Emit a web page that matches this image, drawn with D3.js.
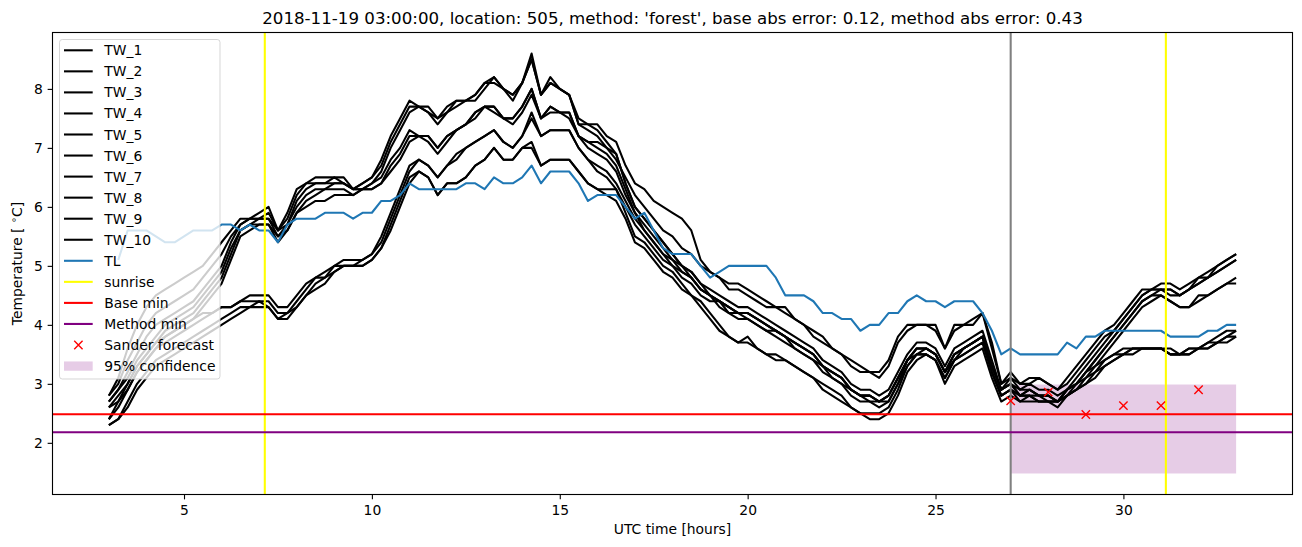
<!DOCTYPE html>
<html><head><meta charset="utf-8">
<script src="https://cdn.jsdelivr.net/npm/d3@7"></script>
<style>body{margin:0;background:#fff;} svg{display:block;font-family:"DejaVu Sans",sans-serif;}</style>
</head><body><svg id="chart" width="1302" height="547"></svg>
<script>
// sample times: every 0.25 h from 3 to 33 UTC hours
const startHour = 3, stepHours = 0.25, nSamples = 121;

const TW_1 = [2.8,3.1,3.6,4.0, 4.3,4.5,4.6,4.7, 4.8,4.9,5.0,5.2, 5.4,5.6,5.8,5.8,
 5.9,6.0,5.6,5.9, 6.3,6.4,6.5,6.5, 6.5,6.5,6.3,6.4, 6.5,6.8,7.2,7.5,
 7.8,7.7,7.7,7.5, 7.7,7.8,7.8,7.9, 8.1,8.2,8.0,7.9, 8.1,8.6,7.9,8.2,
 8.0,7.9,7.4,7.4, 7.4,7.2,7.1,6.7, 6.4,6.3,6.1,6.0, 5.9,5.8,5.6,5.1,
 4.9,4.8,4.7,4.7, 4.6,4.5,4.4,4.3, 4.3,4.1,4.0,3.9, 3.8,3.6,3.5,3.4,
 3.3,3.2,3.2,3.4, 3.8,4.0,4.0,4.0, 4.0,3.6,4.0,4.0, 4.1,4.2,3.7,3.0,
 3.2,3.0,3.1,3.1, 3.0,2.9,3.1,3.3, 3.5,3.7,3.9,4.0, 4.2,4.4,4.6,4.6,
 4.7,4.7,4.6,4.7, 4.8,4.9,5.0,5.1, 5.2];
const TW_2 = [2.8,3.0,3.4,3.7, 4.0,4.2,4.3,4.4, 4.5,4.6,4.8,5.0, 5.2,5.5,5.7,5.8,
 5.8,5.9,5.6,5.8, 6.2,6.4,6.4,6.4, 6.5,6.4,6.3,6.4, 6.5,6.7,7.1,7.4,
 7.7,7.7,7.6,7.5, 7.6,7.8,7.8,7.9, 8.1,8.1,8.0,7.9, 8.1,8.5,7.9,8.1,
 8.0,7.9,7.4,7.3, 7.2,7.0,6.8,6.5, 6.2,6.0,5.8,5.6, 5.5,5.3,5.2,5.0,
 4.9,4.8,4.6,4.6, 4.5,4.4,4.3,4.3, 4.2,4.1,4.0,3.8, 3.7,3.6,3.5,3.3,
 3.2,3.2,3.1,3.3, 3.7,3.9,4.0,4.0, 3.9,3.6,3.9,4.0, 4.0,4.2,3.6,3.0,
 3.1,3.0,3.0,3.1, 3.0,2.9,3.0,3.2, 3.4,3.6,3.8,3.9, 4.1,4.3,4.5,4.6,
 4.6,4.6,4.5,4.6, 4.8,4.8,4.9,5.0, 5.1];
const TW_3 = [2.7,2.9,3.2,3.5, 3.8,4.0,4.1,4.2, 4.3,4.4,4.6,4.8, 5.0,5.4,5.7,5.8,
 5.8,5.8,5.6,5.7, 6.1,6.3,6.4,6.4, 6.4,6.4,6.3,6.3, 6.4,6.6,7.0,7.3,
 7.6,7.7,7.6,7.4, 7.6,7.7,7.8,7.8, 8.0,8.2,8.0,7.8, 8.1,8.5,7.9,8.1,
 8.0,7.9,7.5,7.4, 7.3,7.1,6.9,6.4, 6.0,5.8,5.6,5.4, 5.2,5.0,4.9,4.7,
 4.6,4.5,4.4,4.3, 4.3,4.2,4.1,4.0, 3.9,3.8,3.7,3.6, 3.4,3.3,3.2,3.0,
 2.9,2.9,2.8,2.9, 3.2,3.5,3.7,3.7, 3.6,3.3,3.6,3.7, 3.8,3.9,3.4,2.9,
 3.1,2.9,3.0,2.9, 2.9,2.8,2.9,3.1, 3.3,3.5,3.7,3.9, 4.1,4.3,4.5,4.6,
 4.6,4.6,4.5,4.6, 4.7,4.8,5.0,5.1, 5.2];
const TW_4 = [2.7,2.9,3.1,3.4, 3.6,3.8,4.0,4.1, 4.2,4.3,4.5,4.7, 4.9,5.3,5.6,5.7,
 5.8,5.8,5.5,5.7, 6.0,6.2,6.3,6.3, 6.4,6.4,6.3,6.3, 6.4,6.5,6.8,7.0,
 7.3,7.2,7.2,7.0, 7.2,7.3,7.4,7.6, 7.7,7.7,7.5,7.5, 7.7,8.0,7.5,7.7,
 7.6,7.6,7.2,7.1, 7.1,7.0,6.9,6.4, 6.0,5.8,5.6,5.4, 5.2,5.0,4.9,4.7,
 4.5,4.4,4.3,4.2, 4.2,4.1,4.0,3.9, 3.8,3.7,3.6,3.5, 3.3,3.2,3.1,2.9,
 2.8,2.8,2.7,2.8, 3.1,3.4,3.6,3.6, 3.5,3.2,3.5,3.6, 3.7,3.8,3.3,2.9,
 3.0,2.8,2.9,2.8, 2.8,2.7,2.9,3.0, 3.2,3.4,3.6,3.8, 4.0,4.2,4.4,4.5,
 4.6,4.5,4.5,4.6, 4.7,4.8,4.9,5.0, 5.1];
const TW_5 = [2.6,2.8,3.0,3.3, 3.5,3.7,3.9,4.0, 4.1,4.2,4.4,4.6, 4.8,5.2,5.6,5.7,
 5.7,5.7,5.5,5.6, 5.9,6.1,6.2,6.3, 6.3,6.3,6.2,6.3, 6.3,6.4,6.7,6.9,
 7.2,7.2,7.1,6.9, 7.1,7.3,7.4,7.5, 7.7,7.6,7.5,7.4, 7.6,7.9,7.5,7.6,
 7.6,7.6,7.2,7.1, 7.0,6.9,6.7,6.3, 5.9,5.7,5.5,5.3, 5.1,5.0,4.8,4.6,
 4.5,4.4,4.2,4.2, 4.1,4.0,3.9,3.9, 3.8,3.6,3.5,3.4, 3.3,3.1,3.0,2.9,
 2.8,2.7,2.7,2.7, 3.0,3.4,3.5,3.6, 3.5,3.2,3.4,3.6, 3.7,3.8,3.2,2.8,
 2.9,2.8,2.8,2.8, 2.7,2.7,2.8,3.0, 3.2,3.4,3.6,3.8, 4.0,4.2,4.4,4.5,
 4.5,4.4,4.3,4.3, 4.5,4.5,4.6,4.7, 4.8];
const TW_6 = [2.6,2.7,2.9,3.2, 3.4,3.6,3.8,3.9, 4.0,4.1,4.3,4.5, 4.7,5.1,5.5,5.6,
 5.7,5.7,5.4,5.6, 5.9,6.0,6.1,6.1, 6.2,6.2,6.2,6.3, 6.3,6.4,6.6,6.8,
 7.1,7.2,7.2,7.0, 7.2,7.3,7.4,7.6, 7.7,7.7,7.5,7.5, 7.7,8.0,7.5,7.7,
 7.6,7.5,7.2,7.0, 6.9,6.8,6.6,6.2, 5.9,5.6,5.4,5.2, 5.1,4.9,4.8,4.6,
 4.5,4.4,4.3,4.2, 4.2,4.1,4.0,3.9, 3.8,3.7,3.6,3.5, 3.3,3.2,3.1,2.9,
 2.8,2.8,2.7,2.8, 3.1,3.4,3.6,3.6, 3.5,3.2,3.5,3.6, 3.7,3.8,3.3,2.9,
 3.0,2.9,2.9,2.8, 2.8,2.7,2.8,2.9, 3.1,3.3,3.5,3.7, 3.9,4.1,4.3,4.4,
 4.5,4.4,4.3,4.3, 4.4,4.5,4.6,4.7, 4.7];
const TW_7 = [2.4,2.7,3.0,3.3, 3.5,3.7,3.8,3.9, 4.0,4.1,4.2,4.2, 4.3,4.3,4.4,4.5,
 4.5,4.5,4.3,4.3, 4.5,4.7,4.8,4.9, 5.0,5.1,5.1,5.1, 5.2,5.5,5.9,6.3,
 6.7,6.8,6.7,6.5, 6.7,6.9,7.0,7.1, 7.2,7.3,7.1,7.0, 7.2,7.6,7.2,7.3,
 7.3,7.3,7.0,6.8, 6.7,6.6,6.4,6.1, 5.8,5.6,5.4,5.2, 5.0,4.9,4.8,4.6,
 4.5,4.3,4.2,4.1, 4.1,4.0,3.9,3.8, 3.7,3.6,3.5,3.4, 3.2,3.1,3.0,2.8,
 2.7,2.7,2.6,2.7, 3.0,3.3,3.5,3.5, 3.4,3.1,3.4,3.5, 3.6,3.7,3.2,2.8,
 2.9,2.8,2.8,2.7, 2.7,2.7,2.9,3.0, 3.2,3.3,3.4,3.5, 3.6,3.6,3.6,3.6,
 3.6,3.6,3.5,3.6, 3.6,3.7,3.8,3.9, 3.9];
const TW_8 = [2.4,2.6,2.9,3.2, 3.4,3.6,3.7,3.8, 3.9,4.0,4.1,4.2, 4.3,4.3,4.4,4.4,
 4.4,4.4,4.2,4.2, 4.4,4.6,4.8,4.8, 5.0,5.0,5.0,5.1, 5.2,5.4,5.8,6.2,
 6.6,6.8,6.7,6.5, 6.7,6.8,7.0,7.1, 7.2,7.3,7.1,7.0, 7.2,7.5,7.2,7.3,
 7.3,7.3,7.0,6.8, 6.6,6.5,6.3,6.0, 5.7,5.5,5.3,5.1, 5.0,4.8,4.7,4.5,
 4.4,4.4,4.3,4.2, 4.2,4.1,4.0,3.9, 3.8,3.7,3.6,3.5, 3.3,3.2,3.1,2.9,
 2.8,2.8,2.7,2.8, 3.1,3.4,3.6,3.6, 3.5,3.2,3.5,3.6, 3.7,3.8,3.3,2.9,
 3.0,2.8,2.9,2.8, 2.8,2.7,2.9,3.0, 3.1,3.2,3.4,3.5, 3.5,3.6,3.6,3.6,
 3.6,3.5,3.5,3.5, 3.6,3.7,3.7,3.8, 3.9];
const TW_9 = [2.3,2.4,2.7,3.0, 3.2,3.4,3.5,3.6, 3.7,3.8,3.9,4.0, 4.1,4.2,4.3,4.3,
 4.4,4.3,4.1,4.2, 4.3,4.5,4.7,4.8, 4.9,5.0,5.0,5.0, 5.1,5.3,5.7,6.1,
 6.5,6.6,6.5,6.2, 6.4,6.4,6.5,6.7, 6.8,7.0,6.8,6.8, 7.0,7.1,6.7,6.8,
 6.8,6.8,6.6,6.4, 6.3,6.3,6.3,5.9, 5.5,5.4,5.2,5.0, 4.9,4.7,4.5,4.4,
 4.2,4.0,3.8,3.7, 3.8,3.6,3.5,3.5, 3.4,3.3,3.2,3.1, 3.0,2.9,2.8,2.6,
 2.5,2.5,2.5,2.6, 2.9,3.3,3.5,3.5, 3.4,3.1,3.4,3.5, 3.6,3.7,3.2,2.8,
 2.9,2.7,2.8,2.7, 2.7,2.7,2.8,2.9, 3.0,3.2,3.3,3.4, 3.5,3.6,3.6,3.6,
 3.6,3.5,3.5,3.6, 3.6,3.6,3.7,3.8, 3.8];
const TW_10 = [2.3,2.4,2.6,2.9, 3.1,3.3,3.4,3.5, 3.6,3.7,3.8,3.9, 4.0,4.1,4.2,4.3,
 4.3,4.3,4.1,4.1, 4.3,4.5,4.6,4.7, 4.9,5.0,5.0,5.0, 5.1,5.3,5.6,6.0,
 6.4,6.6,6.5,6.2, 6.4,6.4,6.5,6.7, 6.8,7.0,6.8,6.8, 7.0,7.0,6.7,6.8,
 6.8,6.8,6.6,6.4, 6.3,6.2,6.1,5.8, 5.4,5.3,5.1,4.9, 4.8,4.6,4.5,4.3,
 4.1,3.9,3.8,3.7, 3.7,3.6,3.5,3.4, 3.4,3.3,3.2,3.1, 2.9,2.8,2.7,2.6,
 2.5,2.4,2.4,2.5, 2.8,3.2,3.4,3.5, 3.4,3.0,3.3,3.4, 3.5,3.6,3.1,2.7,
 2.8,2.7,2.7,2.7, 2.7,2.6,2.8,2.9, 3.0,3.1,3.3,3.4, 3.5,3.5,3.6,3.6,
 3.6,3.5,3.5,3.5, 3.6,3.6,3.7,3.7, 3.8];
const TL = [null,5.1,5.6,5.6, 5.6,5.5,5.4,5.4, 5.5,5.6,5.6,5.6, 5.7,5.7,5.6,5.7,
 5.6,5.6,5.4,5.7, 5.8,5.8,5.8,5.9, 5.9,5.9,5.8,5.9, 5.9,6.1,6.1,6.2,
 6.4,6.3,6.3,6.3, 6.3,6.3,6.4,6.4, 6.3,6.5,6.4,6.4, 6.5,6.7,6.4,6.6,
 6.6,6.6,6.4,6.1, 6.2,6.2,6.2,6.0, 5.8,5.9,5.6,5.3, 5.2,5.2,5.2,5.0,
 4.8,4.9,5.0,5.0, 5.0,5.0,5.0,4.8, 4.5,4.5,4.5,4.4, 4.2,4.2,4.1,4.1,
 3.9,4.0,4.0,4.2, 4.2,4.4,4.5,4.4, 4.4,4.3,4.4,4.4, 4.4,4.2,3.9,3.5,
 3.6,3.5,3.5,3.5, 3.5,3.5,3.7,3.6, 3.8,3.8,3.9,3.9, 3.9,3.9,3.9,3.9,
 3.9,3.8,3.8,3.8, 3.8,3.9,3.9,4.0, 4.0];

const sunriseHours = [7.15, 31.13];
const nowHour = 27;
const baseMin = 2.485;
const methodMin = 2.18;
const sanderHours = [27, 28, 29, 30, 31, 32];
const sanderTemps = [2.71, 2.86, 2.48, 2.63, 2.63, 2.90];
const confHours = [27, 33];
const confLow = [1.48, 1.48];
const confHigh = [2.99, 2.99];
const xTicks = [5, 10, 15, 20, 25, 30];
const yTicks = [2, 3, 4, 5, 6, 7, 8];
const twNames = ["TW_1","TW_2","TW_3","TW_4","TW_5","TW_6","TW_7","TW_8","TW_9","TW_10"];
const twSeries = [TW_1,TW_2,TW_3,TW_4,TW_5,TW_6,TW_7,TW_8,TW_9,TW_10];
const titleText = "2018-11-19 03:00:00, location: 505, method: 'forest', base abs error: 0.12, method abs error: 0.43";

const hours = d3.range(nSamples).map(i => startHour + i * stepHours);

const svg = d3.select("#chart");
const L = 52.5, R = 1292.5, T = 32.5, B = 494.5;
const LW = 2.08, FS = "13.89px";

const allVals = twSeries.flat().concat(TL.filter(v => v != null), confLow, confHigh);
const yMin = d3.min(allVals), yMax = d3.max(allVals);
const yPad = (yMax - yMin) * 0.05;
const x = d3.scaleLinear().domain([1.5, 34.5]).range([L, R]);
const y = d3.scaleLinear().domain([yMin - yPad, yMax + yPad]).range([B, T]);

// confidence band
const area = d3.area().x((d, i) => x(confHours[i])).y0((d, i) => y(confLow[i])).y1((d, i) => y(confHigh[i]));
svg.append("path").datum(confHours).attr("d", area).attr("fill", "purple").attr("fill-opacity", 0.2);

const line = d3.line().defined(d => d[1] != null).x(d => x(d[0])).y(d => y(d[1]));
twSeries.forEach(s => {
  svg.append("path").datum(s.map((v, i) => [hours[i], v])).attr("d", line)
    .attr("fill", "none").attr("stroke", "#000").attr("stroke-width", LW).attr("stroke-linejoin", "round");
});
svg.append("path").datum(TL.map((v, i) => [hours[i], v])).attr("d", line)
  .attr("fill", "none").attr("stroke", "#1f77b4").attr("stroke-width", LW).attr("stroke-linejoin", "round");

sunriseHours.forEach(h => {
  svg.append("line").attr("x1", x(h)).attr("x2", x(h)).attr("y1", T).attr("y2", B)
    .attr("stroke", "yellow").attr("stroke-width", LW);
});
svg.append("line").attr("x1", x(nowHour)).attr("x2", x(nowHour)).attr("y1", T).attr("y2", B)
  .attr("stroke", "gray").attr("stroke-width", LW);
svg.append("line").attr("x1", L).attr("x2", R).attr("y1", y(baseMin)).attr("y2", y(baseMin))
  .attr("stroke", "red").attr("stroke-width", LW);
svg.append("line").attr("x1", L).attr("x2", R).attr("y1", y(methodMin)).attr("y2", y(methodMin))
  .attr("stroke", "purple").attr("stroke-width", LW);

function xMark(g, cx, cy) {
  const s = 4.17;
  g.append("path").attr("d", `M${cx - s},${cy - s}L${cx + s},${cy + s}M${cx - s},${cy + s}L${cx + s},${cy - s}`)
    .attr("stroke", "red").attr("stroke-width", 1.39).attr("fill", "none");
}
sanderHours.forEach((h, i) => xMark(svg, x(h), y(sanderTemps[i])));

// frame
svg.append("rect").attr("x", L).attr("y", T).attr("width", R - L).attr("height", B - T)
  .attr("fill", "none").attr("stroke", "#000").attr("stroke-width", 1.11);

// axes
const xAxis = svg.append("g").attr("transform", `translate(0,${B})`)
  .call(d3.axisBottom(x).tickValues(xTicks).tickSize(4.86).tickPadding(6.2).tickFormat(d3.format("d")));
const yAxis = svg.append("g").attr("transform", `translate(${L},0)`)
  .call(d3.axisLeft(y).tickValues(yTicks).tickSize(4.86).tickPadding(4.86).tickFormat(d3.format("d")));
[xAxis, yAxis].forEach(a => {
  a.select(".domain").remove();
  a.selectAll("line").attr("stroke", "#000").attr("stroke-width", 1.11);
  a.selectAll("text").attr("fill", "#000").attr("font-size", FS).attr("font-family", "DejaVu Sans");
});

svg.append("text").attr("x", (L + R) / 2).attr("y", 24).attr("text-anchor", "middle")
  .attr("font-size", "16.67px").attr("fill", "#000").text(titleText);
svg.append("text").attr("x", (L + R) / 2).attr("y", 533.8).attr("text-anchor", "middle")
  .attr("font-size", FS).attr("fill", "#000").text("UTC time [hours]");
const yl = svg.append("text").attr("transform", `translate(22,${(T + B) / 2}) rotate(-90)`)
  .attr("text-anchor", "middle").attr("font-size", FS).attr("fill", "#000");
yl.append("tspan").text("Temperature [ ");
yl.append("tspan").attr("font-size", "9.8px").attr("dy", "-5").text("∘");
yl.append("tspan").attr("dy", "5").text("C]");

// legend
const lg = svg.append("g");
lg.append("rect").attr("x", 59.5).attr("y", 39.5).attr("width", 160.5).attr("height", 339.5).attr("rx", 2.8)
  .attr("fill", "#fff").attr("fill-opacity", 0.8).attr("stroke", "#cccccc").attr("stroke-opacity", 0.8).attr("stroke-width", 1);
const entries = twNames.map(n => ({label: n, type: "line", color: "#000"})).concat([
  {label: "TL", type: "line", color: "#1f77b4"},
  {label: "sunrise", type: "line", color: "yellow"},
  {label: "Base min", type: "line", color: "red"},
  {label: "Method min", type: "line", color: "purple"},
  {label: "Sander forecast", type: "marker"},
  {label: "95% confidence", type: "patch"}
]);
entries.forEach((e, k) => {
  const cy = 50.3 + k * 21.05;
  if (e.type === "line") {
    lg.append("line").attr("x1", 64).attr("x2", 92.7).attr("y1", cy).attr("y2", cy)
      .attr("stroke", e.color).attr("stroke-width", LW);
  } else if (e.type === "marker") {
    xMark(lg, 78.4, cy);
  } else {
    lg.append("rect").attr("x", 64).attr("y", cy - 4.6).attr("width", 28.7).attr("height", 9.3)
      .attr("fill", "purple").attr("fill-opacity", 0.2);
  }
  lg.append("text").attr("x", 104.3).attr("y", cy + 5).attr("font-size", FS).attr("fill", "#000").text(e.label);
});
</script></body></html>
